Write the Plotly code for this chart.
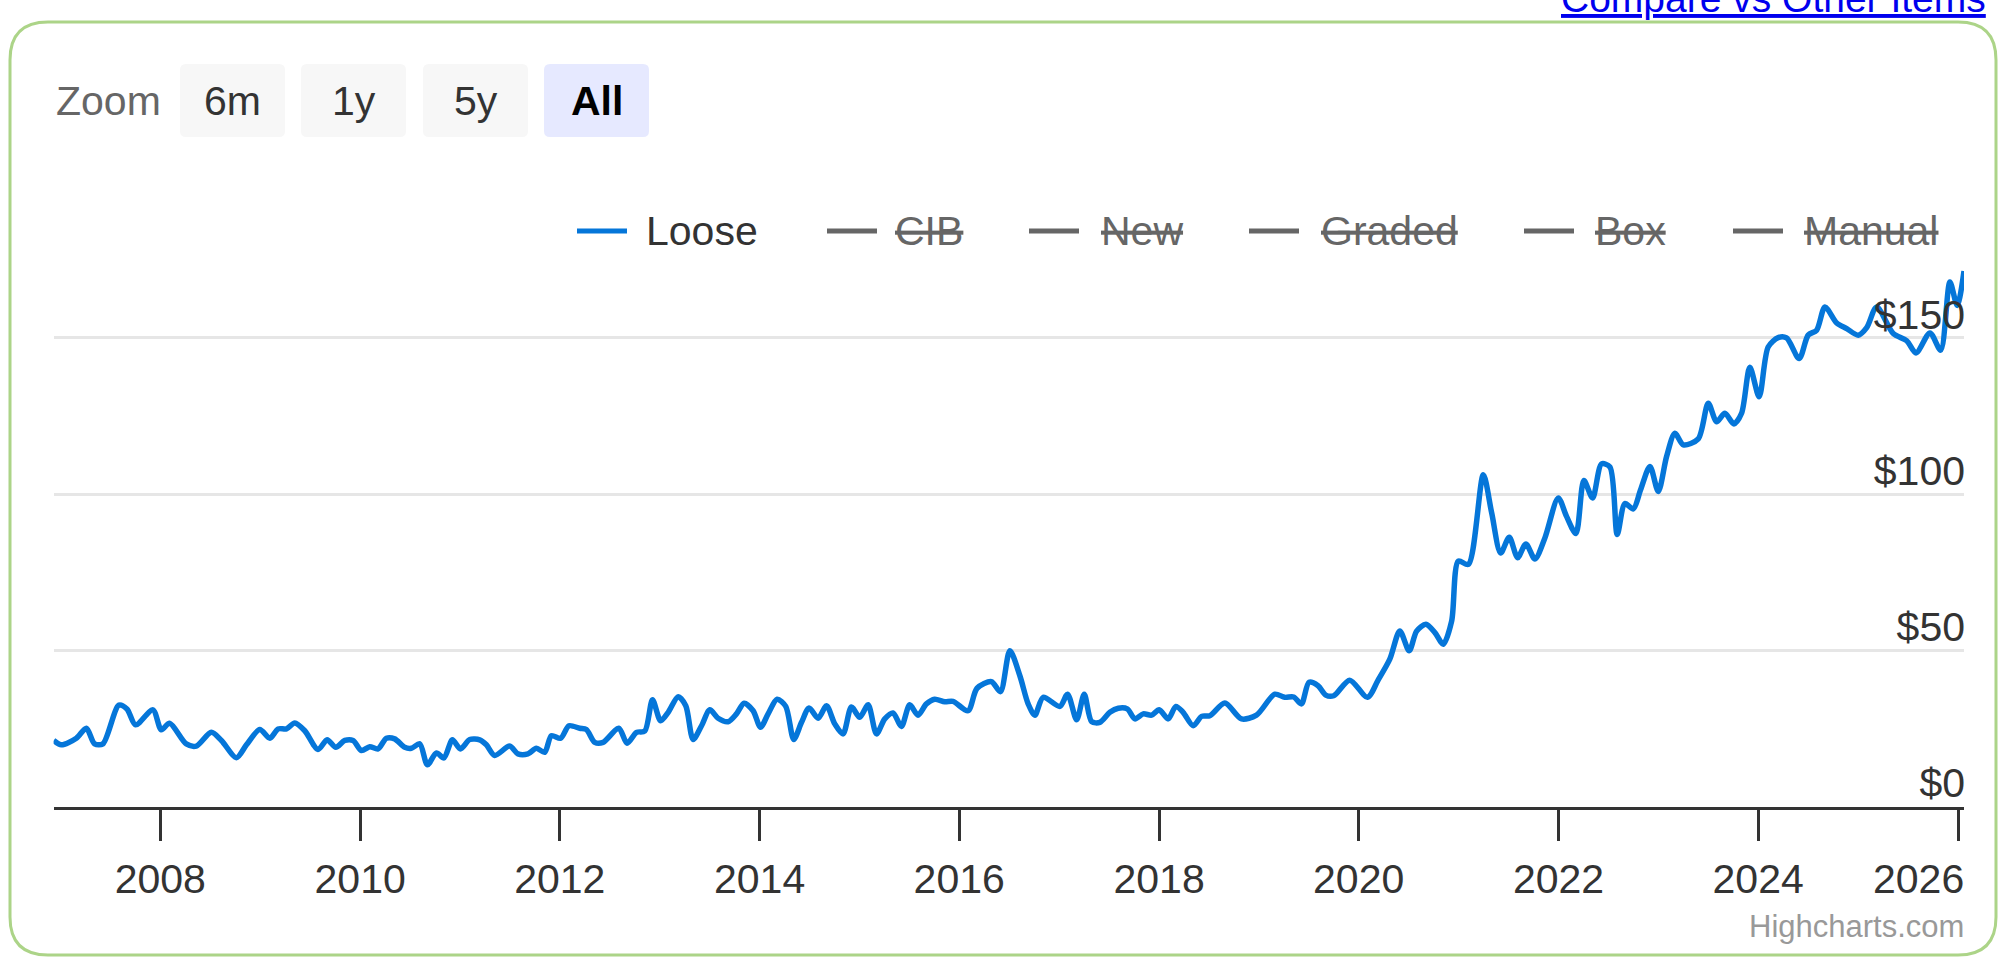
import plotly.graph_objects as go
import pandas as pd

# ---------------- data ----------------
decimal_years = [
    2006.931, 2007.008, 2007.159, 2007.259, 2007.342, 2007.425, 2007.585, 2007.666, 2007.753, 2007.926,
    2008.010, 2008.093, 2008.260, 2008.360, 2008.510, 2008.611, 2008.761, 2008.861, 2008.994, 2009.095,
    2009.178, 2009.262, 2009.345, 2009.445, 2009.578, 2009.669, 2009.756, 2009.846, 2009.929, 2010.013,
    2010.096, 2010.179, 2010.263, 2010.346, 2010.447, 2010.514, 2010.597, 2010.674, 2010.764, 2010.840,
    2010.924, 2011.005, 2011.098, 2011.198, 2011.265, 2011.348, 2011.498, 2011.581, 2011.681, 2011.766,
    2011.849, 2011.916, 2012.009, 2012.092, 2012.199, 2012.266, 2012.350, 2012.433, 2012.590, 2012.673,
    2012.767, 2012.850, 2012.927, 2013.008, 2013.084, 2013.184, 2013.260, 2013.334, 2013.418, 2013.501,
    2013.584, 2013.684, 2013.768, 2013.845, 2013.935, 2014.009, 2014.085, 2014.175, 2014.262, 2014.342,
    2014.420, 2014.496, 2014.586, 2014.670, 2014.753, 2014.836, 2014.920, 2015.003, 2015.087, 2015.171,
    2015.254, 2015.337, 2015.421, 2015.504, 2015.587, 2015.671, 2015.754, 2015.855, 2015.938, 2016.088,
    2016.178, 2016.322, 2016.412, 2016.506, 2016.606, 2016.689, 2016.756, 2016.839, 2017.006, 2017.083,
    2017.174, 2017.250, 2017.324, 2017.407, 2017.507, 2017.591, 2017.681, 2017.758, 2017.841, 2017.925,
    2018.001, 2018.091, 2018.168, 2018.241, 2018.342, 2018.426, 2018.509, 2018.659, 2018.826, 2018.976,
    2019.159, 2019.259, 2019.349, 2019.426, 2019.503, 2019.593, 2019.670, 2019.750, 2019.910, 2020.088,
    2020.194, 2020.311, 2020.411, 2020.505, 2020.579, 2020.672, 2020.762, 2020.845, 2020.929, 2020.996,
    2021.096, 2021.246, 2021.330, 2021.420, 2021.506, 2021.590, 2021.673, 2021.763, 2021.863, 2021.997,
    2022.080, 2022.174, 2022.254, 2022.341, 2022.431, 2022.515, 2022.588, 2022.665, 2022.749, 2022.822,
    2022.916, 2022.999, 2023.083, 2023.166, 2023.250, 2023.400, 2023.500, 2023.584, 2023.667, 2023.757,
    2023.834, 2023.917, 2024.010, 2024.100, 2024.200, 2024.284, 2024.410, 2024.500, 2024.585, 2024.668,
    2024.785, 2024.885, 2025.000, 2025.085, 2025.185, 2025.351, 2025.486, 2025.579, 2025.719, 2025.826,
    2025.919, 2025.992, 2026.060,
]
loose_prices = [
    21.2, 19.8, 21.9, 25.1, 20.1, 20.1, 32.5, 31.3, 26.2, 31.0,
    24.6, 26.7, 20.1, 19.4, 23.8, 21.2, 15.7, 19.8, 24.7, 21.9,
    24.9, 24.9, 26.8, 24.3, 18.3, 21.4, 19.0, 21.2, 21.2, 18.0,
    19.2, 18.5, 21.9, 21.7, 19.0, 18.7, 20.1, 13.4, 17.2, 15.6,
    21.4, 18.5, 21.5, 21.4, 19.8, 16.4, 19.4, 16.9, 16.9, 18.7,
    17.4, 22.7, 21.9, 25.9, 25.1, 24.7, 20.6, 20.6, 25.1, 20.3,
    23.8, 24.2, 34.2, 27.5, 30.2, 35.2, 32.3, 21.5, 25.9, 31.0,
    28.3, 27.2, 29.7, 33.1, 30.7, 25.4, 29.7, 34.4, 32.1, 21.5,
    27.0, 31.6, 28.3, 32.3, 26.5, 23.3, 31.9, 28.6, 32.6, 23.3,
    28.1, 30.0, 25.7, 32.6, 29.3, 32.9, 34.4, 33.6, 33.7, 30.7,
    37.9, 40.0, 36.8, 49.9, 41.9, 32.9, 29.3, 35.0, 32.1, 36.0,
    27.8, 36.0, 27.2, 27.0, 30.2, 31.5, 31.3, 28.1, 29.7, 29.3,
    31.0, 28.1, 32.1, 30.2, 25.9, 28.9, 29.1, 33.2, 28.1, 29.3,
    36.0, 35.0, 35.1, 32.9, 39.8, 38.7, 35.7, 35.5, 40.5, 35.0,
    40.5, 47.2, 56.2, 49.9, 56.2, 58.4, 55.7, 52.0, 59.4, 78.6,
    77.5, 106.2, 94.0, 81.2, 86.2, 79.7, 84.1, 79.3, 86.0, 98.8,
    92.9, 87.4, 104.4, 98.8, 109.7, 108.7, 87.1, 97.0, 95.3, 101.4,
    108.9, 100.9, 112.1, 119.5, 115.8, 117.7, 129.1, 123.2, 125.9, 122.5,
    125.9, 140.6, 131.2, 147.1, 150.1, 150.0, 143.4, 150.9, 152.5, 159.9,
    154.8, 153.0, 150.9, 153.3, 159.9, 151.4, 149.1, 145.2, 151.6, 146.1,
    167.9, 160.4, 171.4,
]
legend_names = ["Loose", "CIB", "New", "Graded", "Box", "Manual"]
legend_hidden = [False, True, True, True, True, True]
zoom_buttons = ["6m", "1y", "5y", "All"]
y_tick_values = [0, 50, 100, 150, 200]
y_tick_labels = ["$0", "$50", "$100", "$150", ""]
x_tick_years = list(range(2008, 2027, 2))

# ---------------- helpers ----------------
W, H = 2000, 957
FONT = "Liberation Sans, Arial, Helvetica, sans-serif"
BLUE = "#0576d9"


def dec_to_dt(v):
    year = int(v)
    start = pd.Timestamp(year=year, month=1, day=1)
    end = pd.Timestamp(year=year + 1, month=1, day=1)
    return start + (end - start) * (v - year)


def px(x):
    return x / W


def py(y):
    return 1 - y / H


def rounded_rect(x0, y0, x1, y1, r):
    rx, ry = r / W, r / H
    X0, X1 = px(x0), px(x1)
    Y0, Y1 = py(y0), py(y1)  # Y0 top (larger), Y1 bottom
    return (f"M{X0 + rx},{Y0} L{X1 - rx},{Y0} Q{X1},{Y0} {X1},{Y0 - ry} "
            f"L{X1},{Y1 + ry} Q{X1},{Y1} {X1 - rx},{Y1} L{X0 + rx},{Y1} "
            f"Q{X0},{Y1} {X0},{Y1 + ry} L{X0},{Y0 - ry} Q{X0},{Y0} {X0 + rx},{Y0} Z")


dates = [dec_to_dt(v) for v in decimal_years]

PLOT_L, PLOT_R = 53.6, 1964
Y0_PIX, Y200_PIX = 806.7, 181.7

fig = go.Figure()
fig.add_trace(go.Scatter(
    x=dates, y=loose_prices, mode="lines", name="Loose",
    line=dict(color=BLUE, width=5.5, shape="spline", smoothing=0.8),
    showlegend=False, hoverinfo="skip",
))

shapes = []
annotations = []

# outer green rounded border
shapes.append(dict(type="path", xref="paper", yref="paper",
                   path=rounded_rect(10, 22, 1996, 955, 38),
                   line=dict(color="#acd488", width=3), layer="below"))

# zoom buttons
btn_x = [180, 301, 423, 544]
for label, bx in zip(zoom_buttons, btn_x):
    selected = label == "All"
    shapes.append(dict(type="path", xref="paper", yref="paper",
                       path=rounded_rect(bx, 64, bx + 105, 137, 6),
                       fillcolor="#e6e9ff" if selected else "#f7f7f7",
                       line=dict(width=0), layer="below"))
    annotations.append(dict(
        x=px(bx + 52.5), y=py(101), xref="paper", yref="paper",
        text=f"<b>{label}</b>" if selected else label, showarrow=False,
        xanchor="center", yanchor="middle",
        font=dict(family=FONT, size=41, color="#000000" if selected else "#333333")))
annotations.append(dict(x=px(54), y=py(101), xref="paper", yref="paper", text="Zoom",
                        showarrow=False, xanchor="left", yanchor="middle",
                        font=dict(family=FONT, size=41, color="#666666")))

# custom legend
leg_line_x = [577, 827, 1029, 1249, 1524, 1733]
leg_text_x = [644, 893, 1099, 1319, 1593, 1802]
LEG_Y = 231
for name, hidden, lx, tx in zip(legend_names, legend_hidden, leg_line_x, leg_text_x):
    col = "#666666" if hidden else BLUE
    shapes.append(dict(type="line", xref="paper", yref="paper",
                       x0=px(lx), x1=px(lx + 50), y0=py(LEG_Y), y1=py(LEG_Y),
                       line=dict(color=col, width=5)))
    f = dict(family=FONT, size=41, color="#666666" if hidden else "#333333")
    if hidden:
        f["lineposition"] = "through"
    annotations.append(dict(x=px(tx), y=py(LEG_Y), xref="paper", yref="paper",
                            text=name, showarrow=False, xanchor="left",
                            yanchor="middle", font=f))

# last x tick label (kept inside the plot edge, as in the reference)
annotations.append(dict(x=pd.Timestamp(year=x_tick_years[-1], month=1, day=1), xref="x",
                        y=py(879), yref="paper", text=str(x_tick_years[-1]),
                        showarrow=False, xanchor="right", yanchor="middle", xshift=8,
                        font=dict(family=FONT, size=41, color="#333333")))

# link on top
annotations.append(dict(x=px(1988), y=py(22), xref="paper", yref="paper",
                        text="Compare vs Other Items", showarrow=False,
                        xanchor="right", yanchor="bottom",
                        font=dict(family=FONT, size=39, color="#0000ee", lineposition="under")))

# credits
annotations.append(dict(x=px(1966), y=py(926), xref="paper", yref="paper",
                        text="Highcharts.com", showarrow=False,
                        xanchor="right", yanchor="middle",
                        font=dict(family=FONT, size=31, color="#999999")))

fig.update_layout(
    width=W, height=H,
    margin=dict(l=0, r=0, t=0, b=0),
    paper_bgcolor="white", plot_bgcolor="white",
    shapes=shapes, annotations=annotations,
    showlegend=False,
    xaxis=dict(
        domain=[px(PLOT_L), px(PLOT_R)],
        range=[dec_to_dt(decimal_years[0]), dec_to_dt(decimal_years[-1])],
        tickvals=[pd.Timestamp(year=y, month=1, day=1) for y in x_tick_years],
        ticktext=[str(y) for y in x_tick_years[:-1]] + [""],
        ticks="outside", ticklen=31, tickwidth=2.5, tickcolor="#333333",
        showline=True, linecolor="#333333", linewidth=3,
        showgrid=False, zeroline=False,
        tickfont=dict(family=FONT, size=41, color="#333333"),
        ticklabelstandoff=3,
        fixedrange=True,
    ),
    yaxis=dict(
        domain=[py(Y0_PIX), py(Y200_PIX)],
        range=[0, 200],
        side="right",
        tickvals=y_tick_values, ticktext=y_tick_labels,
        ticklabelposition="inside top",
        ticklabeloverflow="allow",
        ticklabelshift=5,
        ticklabelstandoff=-4,
        showgrid=True, gridcolor="#e6e6e6", gridwidth=2.5,
        zeroline=False, showline=False, ticks="",
        tickfont=dict(family=FONT, size=41, color="#333333"),
        fixedrange=True,
    ),
)

fig.write_html(
    "out.html",
    config={"displayModeBar": False},
    post_script="document.body.style.margin='0';document.body.style.overflow='hidden';",
)
